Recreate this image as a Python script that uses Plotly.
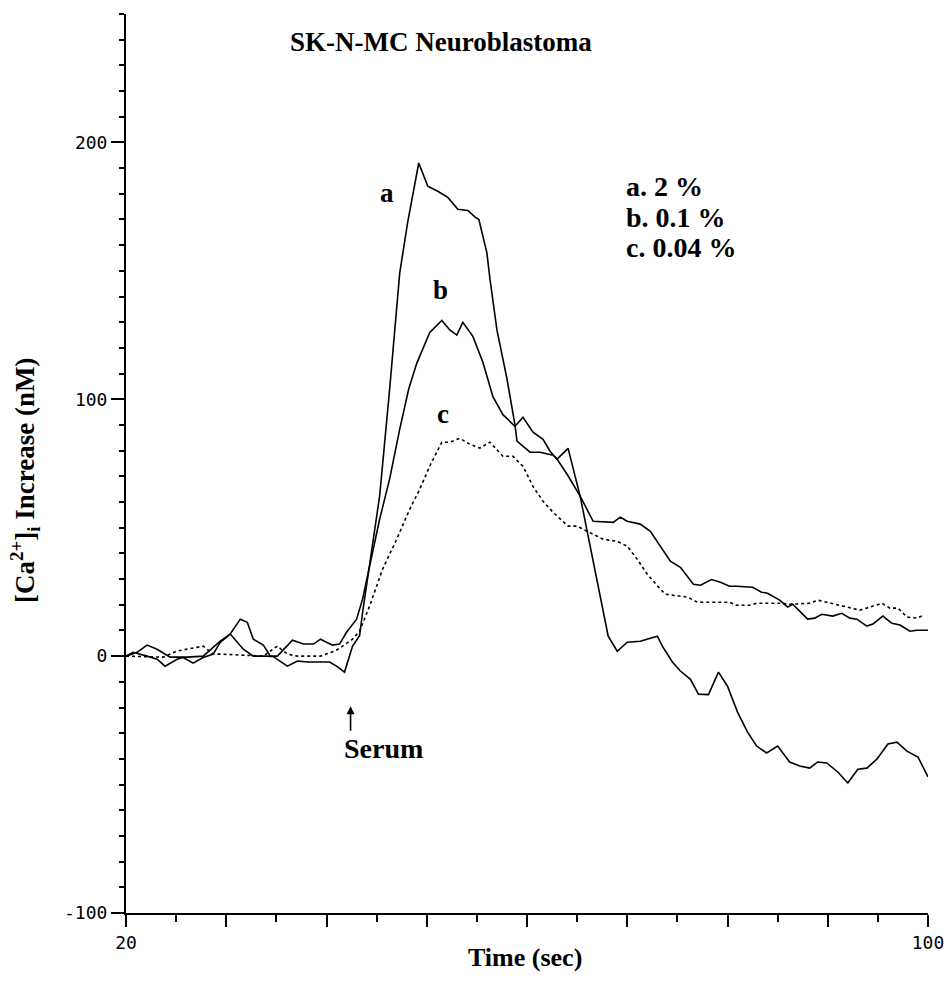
import plotly.graph_objects as go

# ---- data ----
a_time = [20.0, 20.7, 22.1, 23.1, 23.9, 25.1, 25.7, 26.7, 27.7, 28.7, 29.4, 30.4, 31.7, 32.7, 34.1, 34.7,
          36.1, 37.1, 38.1, 40.3, 41.0, 41.8, 42.6, 43.3, 43.6, 44.6, 45.3, 46.3, 47.3, 48.1, 49.2,
          50.1, 51.1, 52.1, 53.1, 54.1, 54.8, 55.2, 56.0, 56.3, 57.0, 58.0, 58.8, 59.0, 60.3, 61.3,
          62.6, 63.0, 64.1, 65.3, 66.3, 67.3, 68.1, 69.0, 70.0, 71.3, 73.0, 73.5, 74.5, 75.3, 76.3,
          77.1, 78.1, 79.1, 80.0, 81.0, 82.0, 82.9, 83.9, 85.0, 86.2, 87.2, 88.2, 89.0, 89.9, 91.0,
          92.0, 93.0, 93.9, 94.9, 96.0, 96.9, 97.9, 99.0, 100.0]
a_ca = [0, 1.5, 0, -1.2, -3.9, -1.2, -0.5, -2.7, -0.5, 0.8, 5.4, 8.6, 2.7, 0, 0, -0.2,
        -3.9, -1.9, -2.3, -2.3, -3.9, -6.2, 3.9, 8, 17, 42.8, 62.3, 104, 149, 169, 192,
        183, 181, 178.6, 174, 173.5, 171, 170, 157, 147, 127, 108, 90, 83.7, 79.4, 79.4,
        78.2, 76.7, 80.9, 62.3, 42.8, 23.3, 7.8, 1.9, 5.4, 5.8, 7.8, 3.9, -2.3, -5.8, -9.0,
        -14.8, -15, -6.2, -11.7, -21.8, -29.6, -35, -37.7, -35, -41.2, -42.8, -43.6, -41.2, -41.6, -45.1,
        -49.4, -44, -43.6, -40.1, -34.2, -33.5, -37, -39.3, -47]

b_time = [20.0, 21.1, 22.1, 23.1, 24.4, 26.1, 27.7, 29.4, 30.4, 31.4, 32.1, 32.7, 33.7, 34.4, 35.1,
          36.1, 36.6, 37.7, 38.7, 39.4, 40.6, 41.3, 42.0, 43.0, 43.6, 44.3, 45.3, 46.3, 47.3, 48.2,
          49.0, 50.3, 51.5, 52.3, 53.0, 53.6, 54.6, 55.6, 56.6, 57.6, 58.8, 59.6, 60.6, 61.6, 62.3,
          63.0, 64.0, 65.3, 66.6, 68.6, 69.3, 70.0, 71.3, 72.3, 73.3, 74.3, 75.3, 76.6, 77.3, 78.4,
          79.3, 80.2, 80.9, 82.5, 83.4, 84.0, 85.2, 86.0, 86.5, 87.2, 88.0, 88.7, 89.4, 90.5, 91.4,
          92.2, 92.9, 93.9, 94.5, 95.5, 96.4, 97.2, 98.2, 98.9, 100.0]
b_ca = [0, 1.5, 4.3, 2.7, -0.4, -0.4, 0, 5.8, 8.6, 14.4, 13.2, 6.6, 4.3, 0, 0,
        3.9, 6.2, 4.7, 4.7, 6.6, 4.3, 4.7, 9.3, 14.4, 22.2, 35, 53.3, 69, 88.3, 104,
        114, 126, 130.7, 127, 125, 130, 124.5, 114.4, 101, 94, 89.5, 93, 87.2, 84.4, 79.8,
        76.7, 70.8, 62.3, 52.5, 52.1, 54.1, 52.5, 51.4, 48.6, 42.8, 37, 34.6, 28, 27.6, 29.8,
        28.8, 27.2, 27.2, 26.8, 24.9, 24.5, 21.8, 19.1, 20.2, 17.5, 14.4, 14.8, 16.3, 15.6, 16.7,
        14.8, 14.4, 11.7, 12.5, 15.6, 12.8, 12.1, 9.7, 10.1, 10.1]

c_time = [20.0, 23.7, 25.1, 27.7, 28.7, 29.4, 33.7, 35.1, 36.1, 37.1, 39.4, 41.0, 42.6, 43.3, 44.3,
          45.6, 47.0, 48.3, 49.3, 50.3, 51.5, 52.3, 53.3, 54.3, 55.3, 56.3, 57.6, 58.6, 59.6, 60.6,
          61.6, 62.6, 64.1, 65.0, 66.0, 67.6, 69.0, 70.0, 71.0, 72.0, 73.3, 73.8, 76.0, 77.0, 80.2,
          80.9, 82.2, 82.9, 85.2, 86.2, 88.2, 89.0, 89.9, 91.2, 92.2, 93.2, 94.2, 95.4, 96.2, 97.0,
          97.9, 98.9, 99.6]
c_ca = [0, -0.4, 2, 3.9, 0.8, 0.8, 0, 3.9, 0.8, 0, 0, 2.3, 6.6, 9.7, 19.5,
        33.9, 45.5, 57.2, 65, 74, 83.3, 83.3, 84.8, 82.5, 81, 83.3, 77.8, 77.8, 73.9, 66.1,
        60.3, 56, 50.6, 50.6, 48.6, 45.5, 44.7, 42.8, 37.7, 31.9, 26.1, 24.1, 23, 21, 21,
        19.8, 19.8, 20.6, 20.6, 20.2, 20.6, 21.8, 21, 19.8, 19.1, 17.9, 19.1, 20.6, 18.7, 18.7,
        15.2, 14.8, 16]

y_tick_vals = [-100, 0, 100, 200]
y_tick_text = ["-100", "0", "100", "200"]
x_tick_vals = [20, 30, 40, 50, 60, 70, 80, 90, 100]
x_tick_text = ["20", "", "", "", "", "", "", "", "100"]
legend_lines = ["a. 2 %", "b. 0.1 %", "c. 0.04 %"]

SERIF = "Liberation Serif, Times New Roman, serif"
MONO = "DejaVu Sans Mono, monospace"

fig = go.Figure()
fig.add_trace(go.Scatter(x=a_time, y=a_ca, mode="lines", line=dict(color="black", width=1.6), name="a"))
fig.add_trace(go.Scatter(x=b_time, y=b_ca, mode="lines", line=dict(color="black", width=1.6), name="b"))
fig.add_trace(go.Scatter(x=c_time, y=c_ca, mode="lines",
                         line=dict(color="black", width=1.6, dash="3px,3px"), name="c"))

ann = []
def bold(t):
    return "<b>" + t + "</b>"

ann.append(dict(x=51.4, y=239, xref="x", yref="y", text=bold("SK-N-MC Neuroblastoma"), showarrow=False,
                font=dict(family=SERIF, size=27, color="black"), xanchor="center", yanchor="middle"))
for i, t in enumerate(legend_lines):
    ann.append(dict(x=69.7, y=[182.9, 170.8, 159.1][i], xref="x", yref="y", text=bold(t), showarrow=False,
                    font=dict(family=SERIF, size=28, color="black"), xanchor="left", yanchor="middle"))
for lab, (lx, ly) in zip(["a", "b", "c"], [(46.0, 180.5), (51.4, 142.4), (51.6, 94.2)]):
    ann.append(dict(x=lx, y=ly, xref="x", yref="y", text=bold(lab), showarrow=False,
                    font=dict(family=SERIF, size=27, color="black"), xanchor="center", yanchor="middle"))
ann.append(dict(x=45.7, y=-35.8, xref="x", yref="y", text=bold("Serum"), showarrow=False,
                font=dict(family=SERIF, size=28, color="black"), xanchor="center", yanchor="middle"))
ann.append(dict(x=42.4, y=-19.5, xref="x", yref="y", text="", showarrow=True, ax=0, ay=26,
                arrowhead=2, arrowsize=1, arrowwidth=1.6, arrowcolor="black"))
ann.append(dict(x=0.4975, y=-0.05, xref="paper", yref="paper", text=bold("Time (sec)"), showarrow=False,
                font=dict(family=SERIF, size=26, color="black"), xanchor="center", yanchor="middle"))
ann.append(dict(x=-0.126, y=0.4817, xref="paper", yref="paper",
                text=bold("[Ca<sup>2+</sup>]<sub>i</sub> Increase (nM)"), showarrow=False, textangle=-90,
                font=dict(family=SERIF, size=27, color="black"), xanchor="center", yanchor="middle"))

fig.update_layout(
    width=948, height=994,
    margin=dict(l=126, r=20, t=14, b=81),
    paper_bgcolor="white", plot_bgcolor="white",
    showlegend=False,
    annotations=ann,
)
fig.update_xaxes(range=[20, 100], automargin=False, showline=True, linecolor="black", linewidth=2,
                 showgrid=False, zeroline=False,
                 tickmode="array", tickvals=x_tick_vals, ticktext=x_tick_text, ticks="outside", ticklen=12,
                 tickwidth=1.5, tickcolor="black",
                 tickfont=dict(family=MONO, size=18, color="black"),
                 minor=dict(tickmode="array", tickvals=[25, 35, 45, 55, 65, 75, 85, 95], ticks="outside",
                            ticklen=7, tickwidth=1.5, tickcolor="black"))
fig.update_yaxes(range=[-100, 250], automargin=False, showline=True, linecolor="black", linewidth=2,
                 showgrid=False, zeroline=False,
                 tickmode="array", tickvals=y_tick_vals, ticktext=y_tick_text, ticks="outside", ticklen=13,
                 tickwidth=1.5, tickcolor="black",
                 tickfont=dict(family=MONO, size=18, color="black"),
                 minor=dict(tickmode="array",
                            tickvals=[v for v in range(-90, 251, 10) if v % 100 != 0],
                            ticks="outside", ticklen=5, tickwidth=1.5, tickcolor="black"))

fig.write_html("out.html")
